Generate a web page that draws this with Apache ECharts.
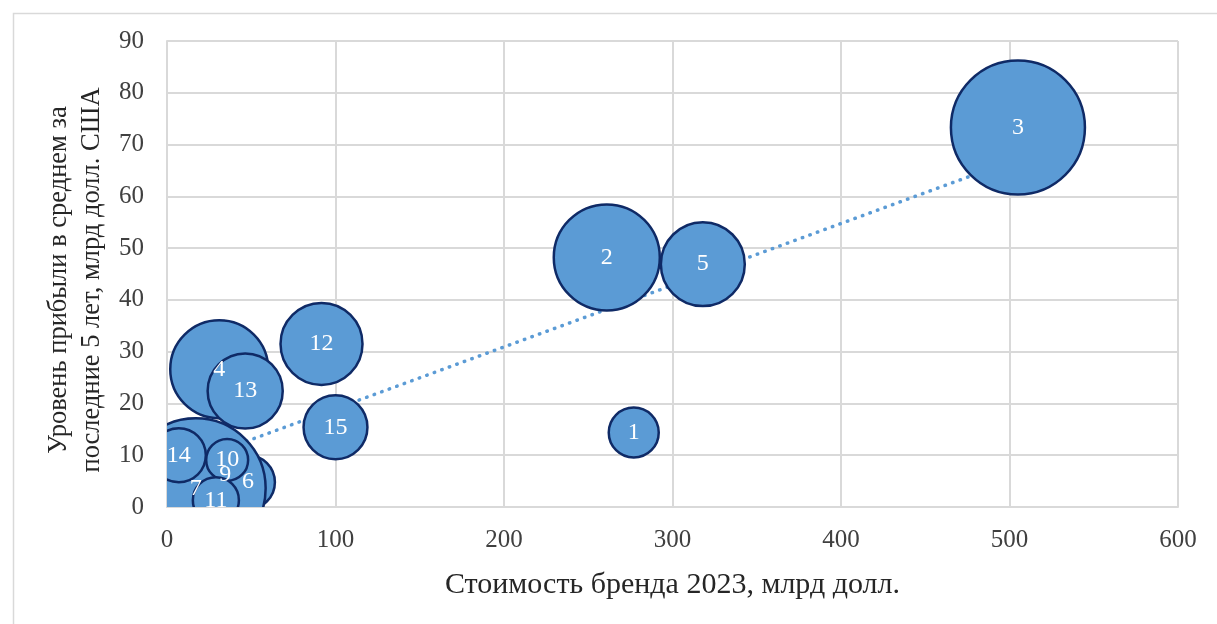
<!DOCTYPE html>
<html>
<head>
<meta charset="utf-8">
<script src="https://cdn.jsdelivr.net/npm/echarts@6/dist/echarts.min.js"></script>
<style>
html,body{margin:0;padding:0;background:#ffffff;}
#chart{width:1217px;height:624px;}
</style>
</head>
<body>
<div id="chart"></div>
<script>
// ---- Data ----
const bubbleLabels = ['1','2','3','4','5','6','7','9','10','11','12','13','14','15'];
const brandValue   = [277, 261, 505, 31, 318, 48, 17, 34.5, 35.7, 29, 91.7, 46.4, 7, 100];   // x, млрд долл.
const avgProfit    = [14.4, 48.2, 73.3, 26.6, 46.9, 4.8, 3.6, 6.2, 9.1, 1.3, 31.5, 22.4, 10, 15.4]; // y
const bubbleSize   = [6.25, 28.1, 44.9, 24.0, 17.6, 7.3, 49, 0.6, 4.4, 5.3, 16.8, 14.1, 7.3, 10.2];
const xTicks = [0, 100, 200, 300, 400, 500, 600];
const yTicks = [0, 10, 20, 30, 40, 50, 60, 70, 80, 90];
const xTitle = 'Стоимость бренда 2023, млрд долл.';
const yTitle = 'Уровень прибыли в среднем за\nпоследние 5 лет, млрд долл. США';

// ---- Build series data (drawn in data order, later bubbles on top) ----
const points = bubbleLabels.map((lab, i) => [brandValue[i], avgProfit[i], bubbleSize[i], i]);

// linear trendline (least squares) from the data
const n = brandValue.length;
const mx = brandValue.reduce((s, v) => s + v, 0) / n;
const my = avgProfit.reduce((s, v) => s + v, 0) / n;
let sxy = 0, sxx = 0;
for (let i = 0; i < n; i++) { sxy += (brandValue[i] - mx) * (avgProfit[i] - my); sxx += (brandValue[i] - mx) ** 2; }
const slope = sxy / sxx, icpt = my - slope * mx;
const xMin = Math.min(...brandValue), xMax = Math.max(...brandValue);
const trend = [[xMin, icpt + slope * xMin], [xMax, icpt + slope * xMax]];

const FONT = "'Liberation Serif', 'Times New Roman', serif";
const RADIUS_SCALE = 10; // radius in px = RADIUS_SCALE * sqrt(size)

const chart = echarts.init(document.getElementById('chart'), null, {renderer: 'canvas'});
chart.setOption({
  animation: false,
  backgroundColor: '#ffffff',
  graphic: [{
    type: 'rect', left: 11, top: 11, z: 0, silent: true,
    shape: {width: 1400, height: 800},
    style: {fill: 'none', stroke: '#d9d9d9', lineWidth: 1.5}
  }],
  grid: {left: 167, right: 39, top: 41, bottom: 117, containLabel: false},
  xAxis: {
    type: 'value', min: xTicks[0], max: xTicks[xTicks.length - 1], interval: xTicks[1] - xTicks[0],
    name: xTitle, nameLocation: 'middle', nameGap: 63,
    nameTextStyle: {fontFamily: FONT, fontSize: 30, color: '#262626'},
    axisLine: {show: true, lineStyle: {color: '#d9d9d9', width: 2}},
    axisTick: {show: false},
    axisLabel: {fontFamily: FONT, fontSize: 25, color: '#404040', margin: 21},
    splitLine: {show: true, lineStyle: {color: '#d9d9d9', width: 2}}
  },
  yAxis: {
    type: 'value', min: yTicks[0], max: yTicks[yTicks.length - 1], interval: yTicks[1] - yTicks[0],
    name: yTitle, nameLocation: 'middle', nameGap: 46,
    nameTextStyle: {fontFamily: FONT, fontSize: 26.5, color: '#262626', lineHeight: 33, align: 'center', padding: [0, 12, 0, 0]},
    axisLine: {show: true, lineStyle: {color: '#d9d9d9', width: 2}},
    axisTick: {show: false},
    axisLabel: {fontFamily: FONT, fontSize: 25, color: '#404040', margin: 23},
    splitLine: {show: true, lineStyle: {color: '#d9d9d9', width: 2}}
  },
  series: [
    {
      name: 'trend', type: 'line', z: 2, silent: true, symbol: 'none',
      data: trend,
      lineStyle: {color: '#5b9bd5', width: 3.5, type: [0.5, 7.5], cap: 'round'}
    },
    {
      name: 'bubbles', type: 'custom', z: 3, clip: true, silent: true,
      encode: {x: 0, y: 1},
      data: points,
      renderItem: function (params, api) {
        const p = api.coord([api.value(0), api.value(1)]);
        const r = RADIUS_SCALE * Math.sqrt(api.value(2));
        return {
          type: 'circle',
          shape: {cx: p[0], cy: p[1], r: r},
          style: {fill: '#5b9bd5', stroke: '#0f2a66', lineWidth: 2.5}
        };
      }
    },
    {
      name: 'labels', type: 'custom', z: 4, clip: false, silent: true,
      encode: {x: 0, y: 1},
      data: points,
      renderItem: function (params, api) {
        const p = api.coord([api.value(0), api.value(1)]);
        return {
          type: 'text',
          style: {
            x: p[0], y: p[1], text: bubbleLabels[api.value(3)],
            align: 'center', verticalAlign: 'middle',
            fill: '#ffffff', font: '24px ' + FONT
          }
        };
      }
    }
  ]
});
</script>
</body>
</html>
